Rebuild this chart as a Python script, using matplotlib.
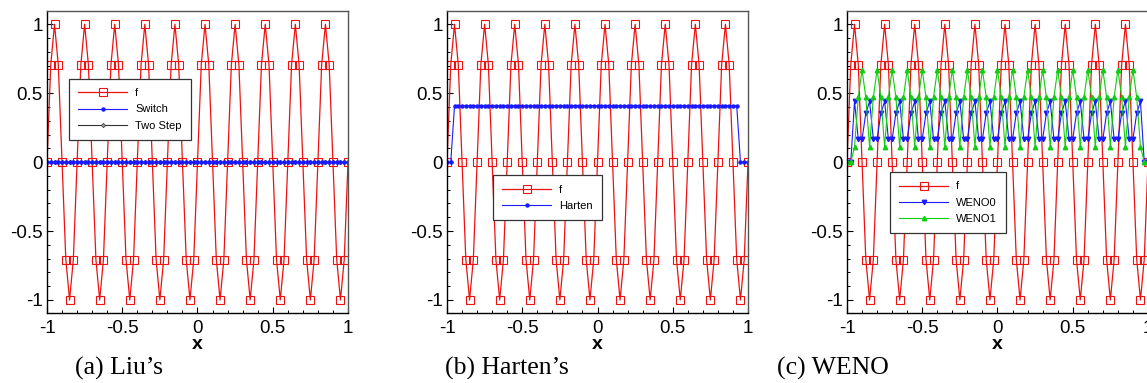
import numpy as np
import matplotlib
matplotlib.use('Agg')
import matplotlib.pyplot as plt
from matplotlib.ticker import MultipleLocator, FuncFormatter

plt.rcParams['font.family'] = ['Liberation Sans', 'DejaVu Sans']
plt.rcParams['axes.unicode_minus'] = False

# grid points in [-1, 1]
x = np.linspace(-1, 1, 81)

# sampled test function
f = [0, 0.707, 1, 0.707, 0, -0.707, -1, -0.707,
     0, 0.707, 1, 0.707, 0, -0.707, -1, -0.707,
     0, 0.707, 1, 0.707, 0, -0.707, -1, -0.707,
     0, 0.707, 1, 0.707, 0, -0.707, -1, -0.707,
     0, 0.707, 1, 0.707, 0, -0.707, -1, -0.707,
     0, 0.707, 1, 0.707, 0, -0.707, -1, -0.707,
     0, 0.707, 1, 0.707, 0, -0.707, -1, -0.707,
     0, 0.707, 1, 0.707, 0, -0.707, -1, -0.707,
     0, 0.707, 1, 0.707, 0, -0.707, -1, -0.707,
     0, 0.707, 1, 0.707, 0, -0.707, -1, -0.707,
     0]

# Liu's switches
switch = [0, 0, 0, 0, 0, 0, 0, 0, 0, 0, 0, 0, 0, 0, 0, 0,
          0, 0, 0, 0, 0, 0, 0, 0, 0, 0, 0, 0, 0, 0, 0, 0,
          0, 0, 0, 0, 0, 0, 0, 0, 0, 0, 0, 0, 0, 0, 0, 0,
          0, 0, 0, 0, 0, 0, 0, 0, 0, 0, 0, 0, 0, 0, 0, 0,
          0, 0, 0, 0, 0, 0, 0, 0, 0, 0, 0, 0, 0, 0, 0, 0,
          0]
two_step = [0, 0, 0, 0, 0, 0, 0, 0, 0, 0, 0, 0, 0, 0, 0, 0,
            0, 0, 0, 0, 0, 0, 0, 0, 0, 0, 0, 0, 0, 0, 0, 0,
            0, 0, 0, 0, 0, 0, 0, 0, 0, 0, 0, 0, 0, 0, 0, 0,
            0, 0, 0, 0, 0, 0, 0, 0, 0, 0, 0, 0, 0, 0, 0, 0,
            0, 0, 0, 0, 0, 0, 0, 0, 0, 0, 0, 0, 0, 0, 0, 0,
            0]

# Harten's switch
harten = [0, 0, 0.41, 0.41, 0.41, 0.41, 0.41, 0.41,
          0.41, 0.41, 0.41, 0.41, 0.41, 0.41, 0.41, 0.41,
          0.41, 0.41, 0.41, 0.41, 0.41, 0.41, 0.41, 0.41,
          0.41, 0.41, 0.41, 0.41, 0.41, 0.41, 0.41, 0.41,
          0.41, 0.41, 0.41, 0.41, 0.41, 0.41, 0.41, 0.41,
          0.41, 0.41, 0.41, 0.41, 0.41, 0.41, 0.41, 0.41,
          0.41, 0.41, 0.41, 0.41, 0.41, 0.41, 0.41, 0.41,
          0.41, 0.41, 0.41, 0.41, 0.41, 0.41, 0.41, 0.41,
          0.41, 0.41, 0.41, 0.41, 0.41, 0.41, 0.41, 0.41,
          0.41, 0.41, 0.41, 0.41, 0.41, 0.41, 0, 0,
          0]

# WENO indicators
weno0 = [0, 0, 0.44, 0.167, 0.167, 0.355, 0.44, 0.167,
         0.167, 0.355, 0.44, 0.167, 0.167, 0.355, 0.44, 0.167,
         0.167, 0.355, 0.44, 0.167, 0.167, 0.355, 0.44, 0.167,
         0.167, 0.355, 0.44, 0.167, 0.167, 0.355, 0.44, 0.167,
         0.167, 0.355, 0.44, 0.167, 0.167, 0.355, 0.44, 0.167,
         0.167, 0.355, 0.44, 0.167, 0.167, 0.355, 0.44, 0.167,
         0.167, 0.355, 0.44, 0.167, 0.167, 0.355, 0.44, 0.167,
         0.167, 0.355, 0.44, 0.167, 0.167, 0.355, 0.44, 0.167,
         0.167, 0.355, 0.44, 0.167, 0.167, 0.355, 0.44, 0.167,
         0.167, 0.355, 0.44, 0.167, 0.167, 0.355, 0.44, 0,
         0]
weno1 = [0, 0, 0.11, 0.47, 0.67, 0.47, 0.11, 0.47,
         0.67, 0.47, 0.11, 0.47, 0.67, 0.47, 0.11, 0.47,
         0.67, 0.47, 0.11, 0.47, 0.67, 0.47, 0.11, 0.47,
         0.67, 0.47, 0.11, 0.47, 0.67, 0.47, 0.11, 0.47,
         0.67, 0.47, 0.11, 0.47, 0.67, 0.47, 0.11, 0.47,
         0.67, 0.47, 0.11, 0.47, 0.67, 0.47, 0.11, 0.47,
         0.67, 0.47, 0.11, 0.47, 0.67, 0.47, 0.11, 0.47,
         0.67, 0.47, 0.11, 0.47, 0.67, 0.47, 0.11, 0.47,
         0.67, 0.47, 0.11, 0.47, 0.67, 0.47, 0.11, 0.47,
         0.67, 0.47, 0.11, 0.47, 0.67, 0.47, 0.11, 0,
         0]

captions = ["(a) Liu\u2019s", "(b) Harten\u2019s", "(c) WENO"]

W, H = 1147, 383
fig = plt.figure(figsize=(W / 100, H / 100), dpi=100)

ax_left = [47, 447, 847]
ax_w, ax_top, ax_bot = 301, 10.5, 313
axes = []
for left in ax_left:
    ax = fig.add_axes([left / W, 1 - ax_bot / H, ax_w / W, (ax_bot - ax_top) / H])
    axes.append(ax)

red = '#ee1111'
blue = '#1a1aff'
green = '#11cc11'


def plot_f(ax):
    return ax.plot(x, f, color=red, lw=0.9, marker='s', ms=5.6, mfc='none',
                   mec=red, mew=0.8, label='f')[0]


def style(ax):
    ax.set_xlim(-1, 1)
    ax.set_ylim(-1.095, 1.1)
    ax.xaxis.set_major_locator(MultipleLocator(0.5))
    ax.xaxis.set_minor_locator(MultipleLocator(0.1))
    ax.yaxis.set_major_locator(MultipleLocator(0.5))
    ax.yaxis.set_minor_locator(MultipleLocator(0.1))
    ax.xaxis.set_major_formatter(FuncFormatter(lambda v, p: '%g' % v))
    ax.yaxis.set_major_formatter(FuncFormatter(lambda v, p: '%g' % v))
    ax.tick_params(which='major', direction='in', length=4, width=0.8,
                   labelsize=13.5, pad=5, top=False, right=False)
    ax.tick_params(which='minor', direction='in', length=2.2, width=0.7,
                   top=False, right=False)
    ax.tick_params(axis='y', pad=3)
    for s in ['top', 'right']:
        ax.spines[s].set_color('#555555')
        ax.spines[s].set_linewidth(1.0)
    for s in ['left', 'bottom']:
        ax.spines[s].set_linewidth(1.0)
    ax.set_xlabel('x', fontsize=14, fontweight='bold', labelpad=-1)


def legend(ax, handles, x0, y0):
    lg = ax.legend(handles=handles, loc='upper left', bbox_to_anchor=(x0, y0),
                   borderaxespad=0, fontsize=8, handlelength=4.4,
                   handletextpad=0.7, borderpad=0.85, labelspacing=0.55,
                   numpoints=1, fancybox=False, framealpha=1,
                   edgecolor='#333333')
    lg.get_frame().set_linewidth(0.9)
    return lg


# (a) Liu's switches
ax = axes[0]
hf = plot_f(ax)
h2 = ax.plot(x, two_step, color='#333333', lw=0.8, marker='D', ms=2.2,
             mfc='#999999', mec='#333333', mew=0.5, label='Two Step')[0]
h1 = ax.plot(x, switch, color=blue, lw=0.8, marker='o', ms=2.2,
             mfc=blue, mec=blue, label='Switch')[0]
style(ax)
legend(ax, [hf, h1, h2], 0.073, 0.774)

# (b) Harten
ax = axes[1]
hf = plot_f(ax)
hh = ax.plot(x, harten, color=blue, lw=0.8, marker='o', ms=2.2,
             mfc=blue, mec=blue, label='Harten')[0]
style(ax)
legend(ax, [hf, hh], 0.153, 0.456)

# (c) WENO
ax = axes[2]
hf = plot_f(ax)
hw0 = ax.plot(x, weno0, color=blue, lw=0.8, marker='v', ms=3.2,
              mfc=blue, mec=blue, label='WENO0')[0]
hw1 = ax.plot(x, weno1, color=green, lw=0.8, marker='^', ms=3.2,
              mfc=green, mec=green, label='WENO1')[0]
style(ax)
legend(ax, [hf, hw0, hw1], 0.143, 0.466)

cap_x = [75, 445, 777]
for cx, txt in zip(cap_x, captions):
    fig.text(cx / W, 1 - 368 / H, txt, fontsize=18.5, va='center', ha='left',
             family=['Liberation Serif', 'DejaVu Serif'])

fig.savefig('out.png', dpi=100)
